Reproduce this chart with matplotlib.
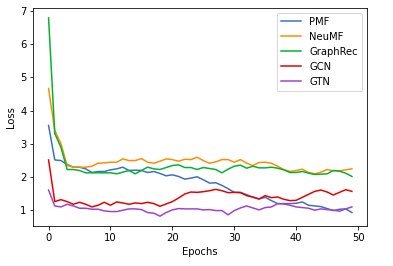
import numpy as np
import matplotlib
matplotlib.use("Agg")
import matplotlib.pyplot as plt

# DATA
epochs = list(range(50))

pmf = [3.55, 2.51, 2.49, 2.37, 2.29, 2.29, 2.24, 2.13, 2.16, 2.16,
       2.21, 2.24, 2.29, 2.19, 2.20, 2.19, 2.13, 2.16, 2.10, 2.03,
       2.06, 2.01, 1.93, 1.96, 2.00, 1.91, 1.81, 1.82, 1.74, 1.64,
       1.53, 1.53, 1.46, 1.38, 1.33, 1.38, 1.28, 1.19, 1.19, 1.19,
       1.20, 1.24, 1.14, 1.12, 1.10, 1.04, 0.98, 1.02, 1.03, 0.92]

neumf = [4.67, 3.40, 3.00, 2.34, 2.29, 2.29, 2.29, 2.32, 2.41, 2.42,
         2.44, 2.44, 2.54, 2.49, 2.49, 2.55, 2.44, 2.41, 2.47, 2.54,
         2.52, 2.47, 2.53, 2.52, 2.59, 2.49, 2.41, 2.45, 2.52, 2.52,
         2.44, 2.52, 2.41, 2.34, 2.43, 2.44, 2.41, 2.32, 2.22, 2.16,
         2.19, 2.23, 2.13, 2.09, 2.14, 2.22, 2.18, 2.18, 2.21, 2.24]

graphrec = [6.80, 3.31, 2.89, 2.22, 2.22, 2.19, 2.12, 2.12, 2.12, 2.12,
            2.12, 2.09, 2.14, 2.19, 2.09, 2.19, 2.29, 2.24, 2.22, 2.28,
            2.34, 2.36, 2.28, 2.28, 2.22, 2.28, 2.25, 2.22, 2.12, 2.23,
            2.32, 2.35, 2.26, 2.32, 2.27, 2.27, 2.29, 2.26, 2.21, 2.13,
            2.13, 2.16, 2.11, 2.07, 2.08, 2.09, 2.19, 2.17, 2.11, 2.01]

gcn = [2.51, 1.25, 1.31, 1.25, 1.17, 1.23, 1.17, 1.09, 1.14, 1.23,
       1.14, 1.24, 1.21, 1.17, 1.21, 1.19, 1.23, 1.19, 1.11, 1.18,
       1.25, 1.36, 1.48, 1.54, 1.53, 1.55, 1.58, 1.62, 1.58, 1.52,
       1.53, 1.52, 1.43, 1.39, 1.33, 1.43, 1.37, 1.39, 1.32, 1.28,
       1.29, 1.38, 1.47, 1.56, 1.60, 1.54, 1.45, 1.53, 1.61, 1.56]

gtn = [1.60, 1.12, 1.09, 1.17, 1.12, 1.05, 1.05, 1.02, 1.02, 0.97,
       0.95, 0.95, 0.99, 1.03, 1.03, 1.01, 0.92, 0.90, 0.81, 0.92,
       1.00, 1.04, 1.03, 1.03, 1.03, 1.00, 1.01, 0.98, 0.98, 0.85,
       0.98, 1.06, 1.12, 1.06, 1.00, 1.07, 1.09, 1.19, 1.18, 1.14,
       1.09, 1.07, 1.05, 0.99, 1.03, 1.01, 0.99, 0.96, 1.03, 1.09]

labels = ["PMF", "NeuMF", "GraphRec", "GCN", "GTN"]
colors = ["#3a6fc4", "#ff8c00", "#00b32c", "#e50000", "#a040d0"]

# PLOT
fig = plt.figure(figsize=(393 / 72, 266 / 72), dpi=72)
ax = fig.add_axes([0.085, 0.150, 0.849, 0.820])

for series, label, color in zip([pmf, neumf, graphrec, gcn, gtn], labels, colors):
    ax.plot(epochs, series, label=label, color=color, linewidth=1.5)

ax.set_xlabel("Epochs")
ax.set_ylabel("Loss")
ax.set_xticks([0, 10, 20, 30, 40, 50])
ax.set_yticks([1, 2, 3, 4, 5, 6, 7])
ax.legend(loc="upper right")

fig.savefig("out.png", dpi=72)
